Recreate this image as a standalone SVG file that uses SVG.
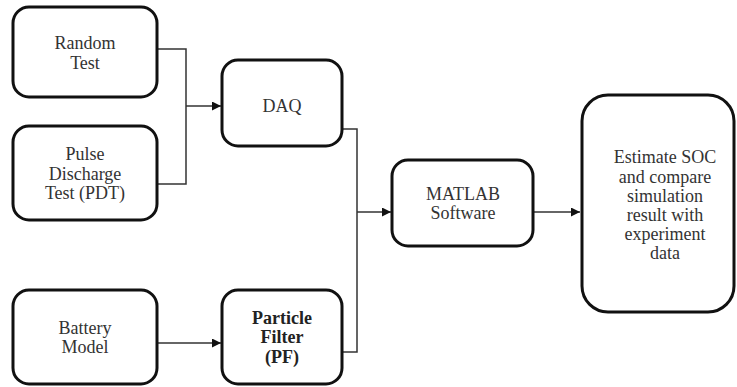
<svg xmlns="http://www.w3.org/2000/svg" width="737" height="387" viewBox="0 0 737 387">
<style>
.box{fill:#fff;stroke:#111;stroke-width:3}
.t{font-size:18px;fill:#333;text-anchor:middle}
.b{font-weight:bold;fill:#222}
.c{fill:none;stroke:#333;stroke-width:1.5}
</style>
<defs>
<marker id="ah" viewBox="0 0 10 10" refX="10" refY="5" markerWidth="10" markerHeight="9" markerUnits="userSpaceOnUse" orient="auto">
<path d="M0,0 L10,5 L0,10 Z" fill="#111"/>
</marker>
</defs>
<rect width="737" height="387" fill="#fff"/>
<g id="connectors">
<path class="c" d="M157,49 H186 V184 H157"/>
<path class="c" d="M186,106 H221" marker-end="url(#ah)"/>
<path class="c" d="M342,129 H357 V352 H342"/>
<path class="c" d="M357,212 H391" marker-end="url(#ah)"/>
<path class="c" d="M157,343 H221" marker-end="url(#ah)"/>
<path class="c" d="M533,212 H580" marker-end="url(#ah)"/>
</g>
<g font-family="Liberation Serif, Times New Roman, serif">
<g id="random">
<rect class="box" x="13" y="7" width="144" height="90" rx="16"/>
<text class="t" x="85" y="49">Random</text>
<text class="t" x="85" y="69">Test</text>
</g>
<g id="pulse">
<rect class="box" x="13" y="126" width="144" height="94" rx="16"/>
<text class="t" x="85" y="160">Pulse</text>
<text class="t" x="85" y="180">Discharge</text>
<text class="t" x="85" y="199">Test (PDT)</text>
</g>
<g id="daq">
<rect class="box" x="222" y="60" width="120" height="86" rx="16"/>
<text class="t" x="282" y="112">DAQ</text>
</g>
<g id="battery">
<rect class="box" x="13" y="290" width="144" height="94" rx="16"/>
<text class="t" x="85" y="334">Battery</text>
<text class="t" x="85" y="353">Model</text>
</g>
<g id="pf">
<rect class="box" x="222" y="290" width="120" height="94" rx="16"/>
<text class="t b" x="282" y="324">Particle</text>
<text class="t b" x="282" y="343">Filter</text>
<text class="t b" x="282" y="363">(PF)</text>
</g>
<g id="matlab">
<rect class="box" x="392" y="160" width="141" height="86" rx="16"/>
<text class="t" x="463" y="200">MATLAB</text>
<text class="t" x="463" y="219">Software</text>
</g>
<g id="estimate">
<rect class="box" x="582" y="95" width="152" height="217" rx="26"/>
<text class="t" x="665" y="163">Estimate SOC</text>
<text class="t" x="665" y="183">and compare</text>
<text class="t" x="665" y="202">simulation</text>
<text class="t" x="665" y="221">result with</text>
<text class="t" x="665" y="240">experiment</text>
<text class="t" x="665" y="259">data</text>
</g>
</g>
</svg>
